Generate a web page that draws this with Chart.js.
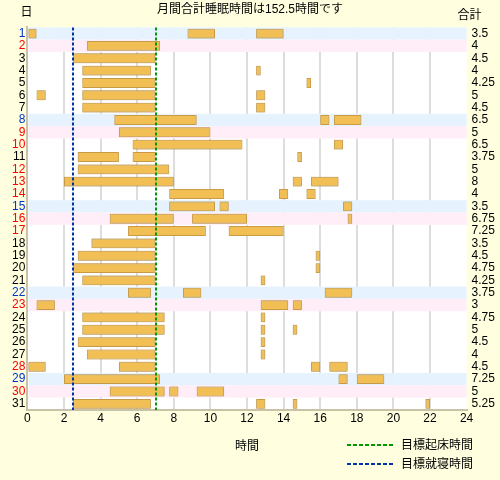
<!DOCTYPE html>
<html><head><meta charset="utf-8">
<script src="https://cdn.jsdelivr.net/npm/chart.js@4.4.0/dist/chart.umd.min.js"></script>
<style>html,body{margin:0;padding:0;background:#FFFFE0;}canvas{display:block;}</style>
</head><body>
<canvas id="c" width="500" height="480"></canvas>
<script>
const chartTitle = '月間合計睡眠時間は152.5時間です';
const xTitle = '時間';
const leftHeader = '日';
const rightHeader = '合計';
const days = ['1','2','3','4','5','6','7','8','9','10','11','12','13','14','15','16','17','18','19','20','21','22','23','24','25','26','27','28','29','30','31'];
// wd = weekday, sat = Saturday, sun = Sunday, hol = holiday
const dayKinds = ['sat','sun','wd','wd','wd','wd','wd','sat','sun','hol','wd','hol','hol','hol','sat','sun','hol','wd','wd','wd','wd','sat','sun','wd','wd','wd','wd','hol','sat','sun','wd'];
const totals = [3.5,4,4.5,4,4.25,5,4.5,6.5,5,6.5,3.75,5,8,4,3.5,6.75,7.25,3.5,4.5,4.75,4.25,3.75,3,4.75,5,4.5,4,4.5,7.25,5,5.25];
// k-th sleep block of each day [start hour, end hour]
const sleep1 = [[0,0.5],[3.25,7.25],[2.5,7],[3,6.75],[3,7],[0.5,1],[3,7],[4.75,9.25],[5,10],[5.75,11.75],
  [2.75,5],[2.75,7.75],[2,8],[7.75,10.75],[7.75,10.25],[4.5,8],[5.5,9.75],[3.5,7],[2.75,7],[2.5,7],
  [3,7],[5.5,6.75],[0.5,1.5],[3,7.5],[3,7.5],[2.75,7],[3.25,7],[0,1],[2,7.25],[4.5,7.5],
  [2.5,6.75]];
const sleep2 = [[8.75,10.25],null,null,[12.5,12.75],[15.25,15.5],[3,7],[12.5,13],[16,16.5],null,[16.75,17.25],
  [5.75,7],null,[14.5,15],[13.75,14.25],[10.5,11],[9,12],[11,14],null,[15.75,16],[15.75,16],
  [12.75,13],[8.5,9.5],[12.75,14.25],[12.75,13],[12.75,13],[12.75,13],[12.75,13],[5,7],[17,17.5],[7.75,8.25],
  [12.5,13]];
const sleep3 = [[12.5,14],null,null,null,null,[12.5,13],null,[16.75,18.25],null,null,
  [14.75,15],null,[15.5,17],[15.25,15.75],[17.25,17.75],[17.5,17.75],null,null,null,null,
  null,[16.25,17.75],[14.5,15],null,[14.5,14.75],null,null,[15.5,16],[18,19.5],[9.25,10.75],
  [14.5,14.75]];
const sleep4 = [null,null,null,null,null,null,null,null,null,null,
  null,null,null,null,null,null,null,null,null,null,
  null,null,null,null,null,null,null,[16.5,17.5],null,null,
  [21.75,22]];
const goalWake = 7;
const goalBed = 2.5;
const xMin = 0, xMax = 24, xStep = 2;

const labelColors = {wd:'#000000', sat:'#0033CC', sun:'#FF0000', hol:'#FF0000'};
const bandColors = {sat:'#E6F3FF', sun:'#FFEEF8'};
const goals = [
  {label:'目標起床時間', value: goalWake, color:'#009900'},
  {label:'目標就寝時間', value: goalBed, color:'#0033AA'}
];
const FONT = "'Liberation Sans','Noto Sans CJK JP',sans-serif";
Chart.defaults.font.family = FONT;
Chart.defaults.font.size = 12;
Chart.defaults.color = '#000';

const decor = {
  id:'decor',
  beforeDraw(chart){
    const {ctx, chartArea:a} = chart;
    ctx.save();
    ctx.fillStyle = '#FFFFE0';
    ctx.fillRect(0,0,chart.width,chart.height);
    ctx.fillStyle = '#FFFFFF';
    ctx.fillRect(a.left,a.top,a.right-a.left,a.bottom-a.top);
    ctx.restore();
  },
  beforeDatasetsDraw(chart){
    const {ctx, chartArea:a, scales} = chart;
    const y = scales.y;
    const h = (a.bottom - a.top)/days.length;
    ctx.save();
    dayKinds.forEach((k,i)=>{
      if(!bandColors[k]) return;
      const c = y.getPixelForValue(i);
      ctx.fillStyle = bandColors[k];
      ctx.fillRect(a.left+1, c-h/2, a.right-a.left-1, h);
    });
    ctx.restore();
  },
  beforeDatasetDraw(chart){
    const ctx = chart.ctx;
    ctx.save();
    ctx.shadowColor = 'rgba(120,110,90,0.45)';
    ctx.shadowBlur = 2;
  },
  afterDatasetDraw(chart){ chart.ctx.restore(); },
  afterDatasetsDraw(chart){
    const {ctx, chartArea:a, scales} = chart;
    ctx.save();
    ctx.lineWidth = 2;
    ctx.setLineDash([3,2]);
    goals.forEach(g=>{
      const x = Math.round(scales.x.getPixelForValue(g.value));
      ctx.strokeStyle = g.color;
      ctx.beginPath(); ctx.moveTo(x,a.top); ctx.lineTo(x,a.bottom); ctx.stroke();
    });
    ctx.restore();
  },
  afterDraw(chart){
    const {ctx, chartArea:a} = chart;
    ctx.save();
    ctx.fillStyle = '#000';
    ctx.font = '12px ' + FONT;
    ctx.textBaseline = 'middle';
    ctx.textAlign = 'center';
    ctx.fillText(leftHeader, a.left - 1, 13);
    ctx.fillText(rightHeader, a.right + 3, 16);
    // legend
    ctx.textAlign = 'left';
    goals.forEach((g,i)=>{
      const yy = 445 + i*19;
      ctx.strokeStyle = g.color;
      ctx.lineWidth = 2;
      ctx.setLineDash([4,2]);
      ctx.beginPath(); ctx.moveTo(347,yy); ctx.lineTo(393,yy); ctx.stroke();
      ctx.setLineDash([]);
      ctx.fillText(g.label, 401, yy+1);
    });
    ctx.restore();
  }
};

const barStyle = {
  backgroundColor:'#F2BF55',
  borderColor:'#D3A145',
  borderWidth:1,
  borderSkipped:false,
  grouped:false,
  barPercentage:0.8,
  categoryPercentage:1.0,
  xAxisID:'x', yAxisID:'y'
};

new Chart(document.getElementById('c'), {
  type:'bar',
  data:{
    labels: days,
    datasets: [sleep1, sleep2, sleep3, sleep4].map((d,i)=>Object.assign({label:'睡眠'+(i+1), data:d}, barStyle))
  },
  options:{
    responsive:false,
    animation:false,
    indexAxis:'y',
    layout:{padding:{left:0,right:0,top:0,bottom:0}},
    plugins:{
      legend:{display:false},
      tooltip:{enabled:false},
      title:{display:true, text:chartTitle, color:'#000', font:{size:12, weight:'normal', family:FONT}, padding:{top:2,bottom:11}}
    },
    scales:{
      x:{
        type:'linear', position:'bottom', min:xMin, max:xMax,
        ticks:{stepSize:xStep, padding:1, color:'#000', font:{size:12}},
        grid:{drawTicks:false, lineWidth:2, color:(c)=> (c.tick && (c.tick.value===xMax || c.tick.value===xMin)) ? 'rgba(0,0,0,0)' : '#DDDDDD'},
        border:{display:true, color:'#C9C2A6', width:2},
        title:{display:true, text:xTitle, color:'#000', font:{size:12}, padding:{top:0,bottom:26}},
        afterFit(s){ s.height = 70; }
      },
      y:{
        type:'category', position:'left', offset:true,
        ticks:{autoSkip:false, padding:2, font:{size:12}, color:(c)=>labelColors[dayKinds[c.index]]},
        grid:{display:false, drawTicks:false},
        border:{display:true, color:'#C9C2A6', width:2},
        afterFit(s){ s.width = 27.4; }
      },
      y2:{
        type:'category', position:'right', offset:true, labels: totals.map(String),
        ticks:{autoSkip:false, padding:5, font:{size:12}, color:'#000'},
        grid:{display:false, drawTicks:false},
        border:{display:false},
        afterFit(s){ s.width = 33.4; }
      }
    }
  },
  plugins:[decor]
});
</script>
</body></html>
